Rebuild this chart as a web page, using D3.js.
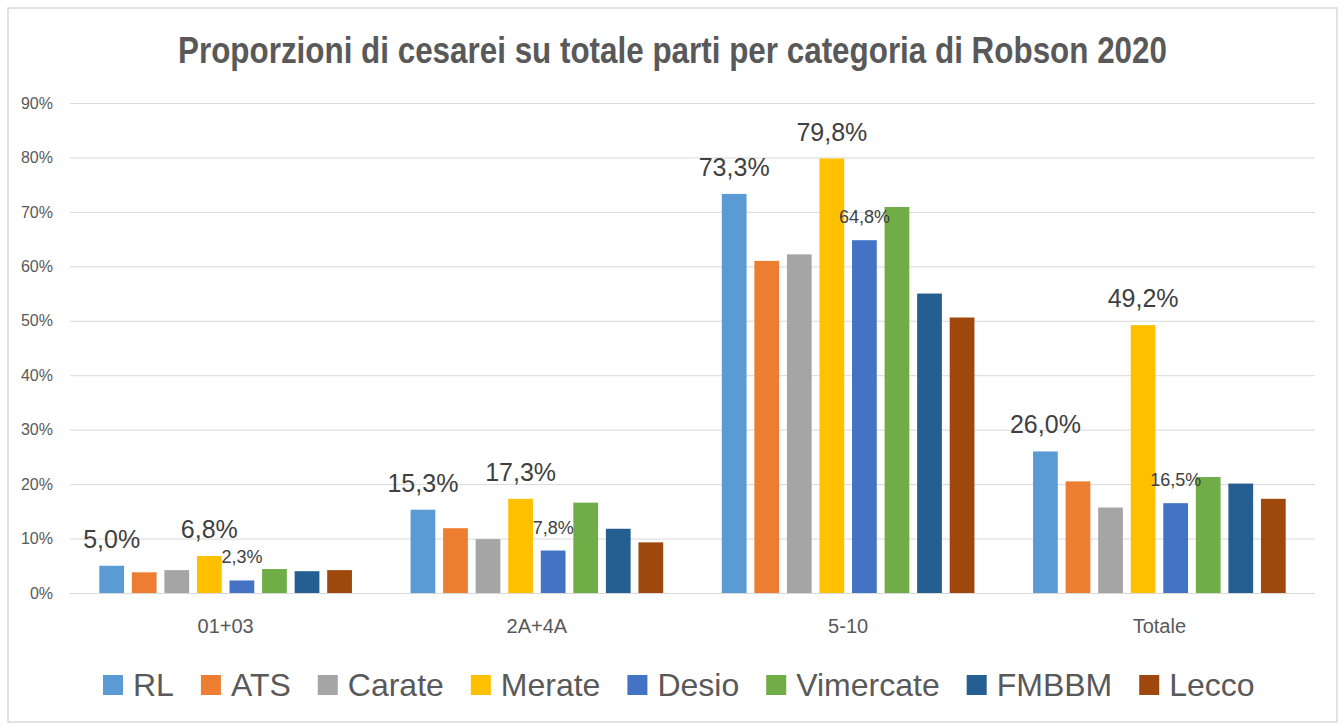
<!DOCTYPE html>
<html>
<head>
<meta charset="utf-8">
<script src="https://cdn.jsdelivr.net/npm/d3@7"></script>
<style>
  body { margin: 0; background: #fff; }
  svg { display: block; font-family: "Liberation Sans", "DejaVu Sans", sans-serif; }
</style>
</head>
<body>
<svg class="chart-svg" width="1343" height="724"></svg>
<script>
// categories and series (percent values)
let categories = ["01+03", "2A+4A", "5-10", "Totale"]
let seriesNames = ["RL", "ATS", "Carate", "Merate", "Desio", "Vimercate", "FMBBM", "Lecco"]
let seriesColors = ["#5B9BD5", "#ED7D31", "#A5A5A5", "#FFC000", "#4472C4", "#70AD47", "#255E91", "#9E480E"]

let valuesRL = [5.0, 15.3, 73.3, 26.0]
let valuesATS = [3.8, 11.9, 61.0, 20.5]
let valuesCarate = [4.2, 9.9, 62.2, 15.7]
let valuesMerate = [6.8, 17.3, 79.8, 49.2]
let valuesDesio = [2.3, 7.8, 64.8, 16.5]
let valuesVimercate = [4.4, 16.6, 70.9, 21.3]
let valuesFMBBM = [4.0, 11.8, 55.0, 20.1]
let valuesLecco = [4.2, 9.3, 50.6, 17.3]

let yTickValues = [0, 10, 20, 30, 40, 50, 60, 70, 80, 90]

// which series carry data labels, and label size
let labelSeries = ["RL", "Merate", "Desio"]
let labelSmall = ["Desio"]

let allValues = [valuesRL, valuesATS, valuesCarate, valuesMerate, valuesDesio, valuesVimercate, valuesFMBBM, valuesLecco]

let svg = d3.select(".chart-svg")

// outer frame
svg.append("rect")
    .attr("x", 8).attr("y", 8)
    .attr("width", 1329).attr("height", 714)
    .attr("fill", "#fff")
    .attr("stroke", "#d9d9d9")
    .attr("stroke-width", 1.5)

// title
svg.append("text")
    .attr("x", 178).attr("y", 63)
    .attr("textLength", 989)
    .attr("lengthAdjust", "spacingAndGlyphs")
    .style("font-size", "36px")
    .style("font-weight", "bold")
    .style("fill", "#595959")
    .text("Proporzioni di cesarei su totale parti per categoria di Robson 2020")

//plot area
let plotLeft = 70
let plotRight = 1315
let plotTop = 103
let plotBottom = 593

let x0 = d3.scaleBand()
    .domain(categories)
    .range([plotLeft, plotRight])

let x1 = d3.scaleBand()
    .domain(seriesNames)
    .range([0, x0.bandwidth()])
    .paddingInner(0.24)
    .paddingOuter(0.9)

let y = d3.scaleLinear()
    .domain([0, 90])
    .range([plotBottom, plotTop])

// y axis + gridlines
let gy = svg.append("g")
    .attr("transform", "translate(" + plotLeft + ",0)")
let yAxis = d3.axisLeft(y)
    .tickValues(yTickValues)
    .tickFormat(d => d + "%")
    .tickSize(-(plotRight - plotLeft))
    .tickPadding(17)
yAxis(gy)
gy.select(".domain").remove()
gy.selectAll(".tick line").style("stroke", "#d9d9d9").style("stroke-width", 1)
gy.selectAll(".tick text")
    .style("font-size", "16px")
    .style("fill", "#595959")
    .style("font-family", "'Liberation Sans', sans-serif")

// category labels
svg.selectAll(".cat-label")
    .data(categories)
    .join("text")
    .attr("class", "cat-label")
    .attr("x", d => x0(d) + x0.bandwidth() / 2)
    .attr("y", 633)
    .attr("text-anchor", "middle")
    .style("font-size", "20px")
    .style("fill", "#595959")
    .text(d => d)

// build rows for bars
let rows = []
for (let i = 0; i < categories.length; i++) {
    for (let j = 0; j < seriesNames.length; j++) {
        rows.push({cat: categories[i], series: seriesNames[j], value: allValues[j][i], color: seriesColors[j]})
    }
}

svg.append("g").selectAll("rect")
    .data(rows)
    .join("rect")
    .attr("x", d => x0(d.cat) + x1(d.series))
    .attr("y", d => y(d.value))
    .attr("width", x1.bandwidth())
    .attr("height", d => y(0) - y(d.value))
    .style("fill", d => d.color)

// data labels
let fmt = v => v.toFixed(1).replace(".", ",") + "%"
svg.append("g").selectAll("text")
    .data(rows.filter(d => labelSeries.includes(d.series)))
    .join("text")
    .attr("x", d => x0(d.cat) + x1(d.series) + x1.bandwidth() / 2)
    .attr("y", d => y(d.value) - (labelSmall.includes(d.series) ? 17 : 18))
    .attr("text-anchor", "middle")
    .style("font-size", d => labelSmall.includes(d.series) ? "18px" : "25px")
    .style("fill", "#404040")
    .text(d => fmt(d.value))

// legend
let legend = svg.append("g")
let legendX = 103
let legendY = 675
for (let j = 0; j < seriesNames.length; j++) {
    legend.append("rect")
        .attr("x", legendX).attr("y", legendY)
        .attr("width", 20).attr("height", 20)
        .style("fill", seriesColors[j])
    let t = legend.append("text")
        .attr("x", legendX + 30).attr("y", legendY + 21)
        .style("font-size", "32px")
        .style("fill", "#595959")
        .text(seriesNames[j])
    legendX = legendX + 30 + t.node().getComputedTextLength() + 27
}
</script>
</body>
</html>
